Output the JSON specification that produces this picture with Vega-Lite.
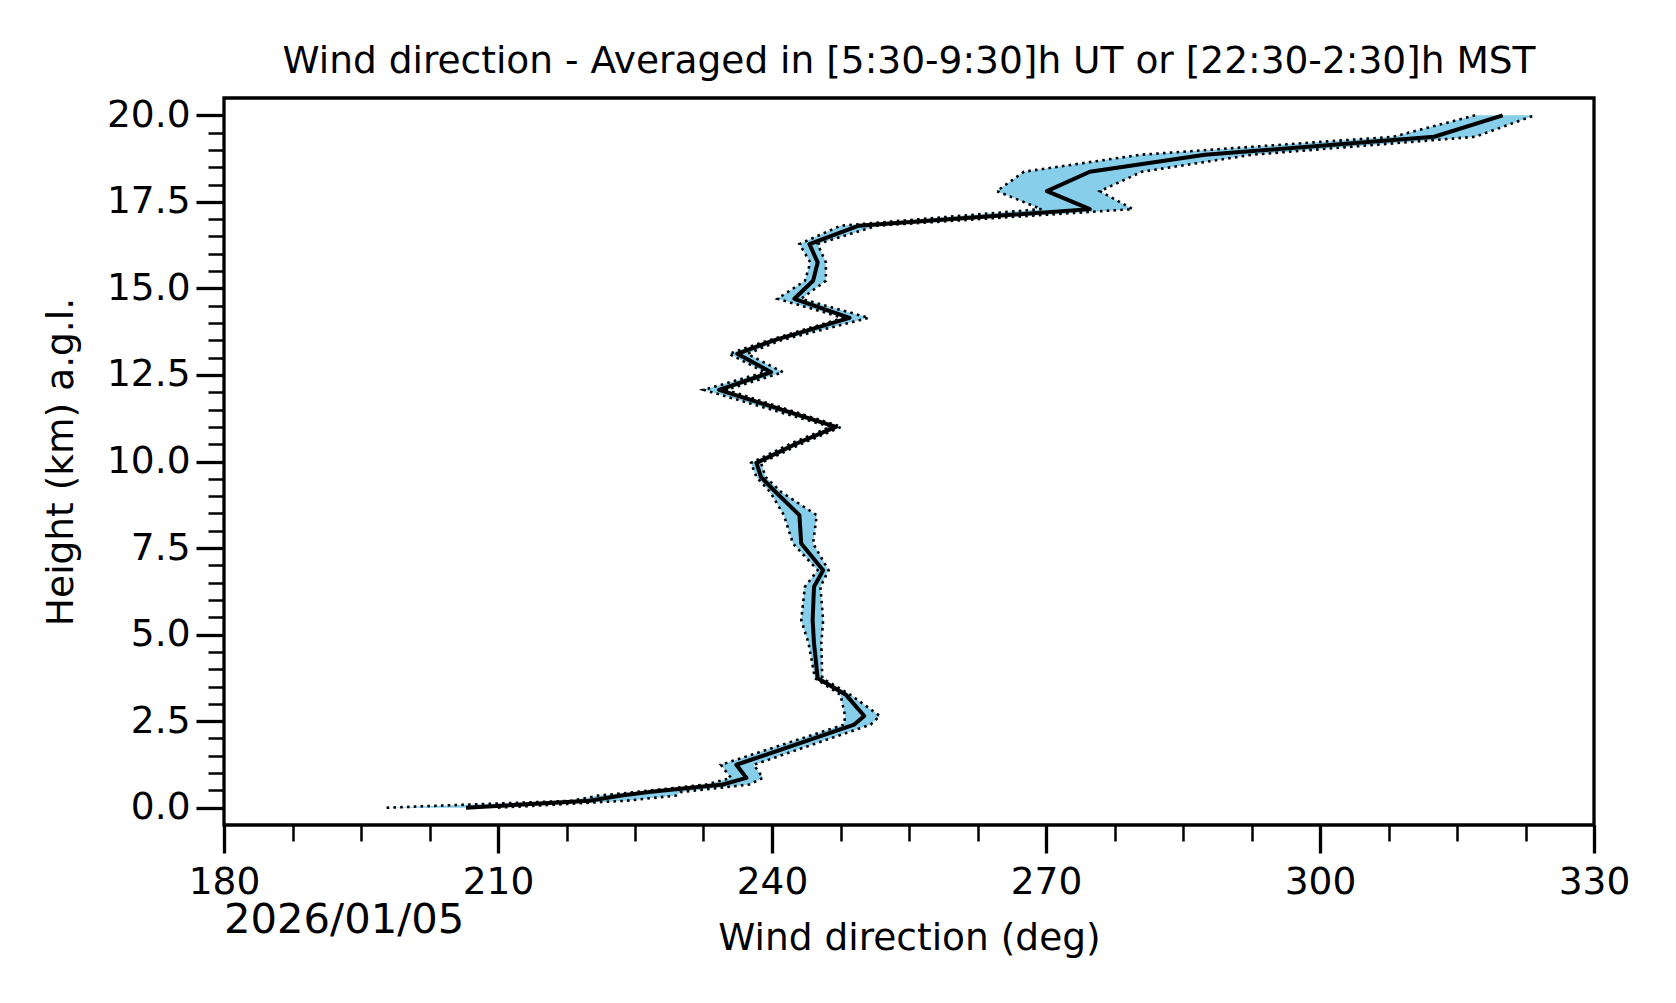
{
  "$schema": "https://vega.github.io/schema/vega-lite/v6.json",
  "autosize": {"type": "none"},
  "width": 1370,
  "height": 727,
  "padding": {"left": 224, "top": 98, "right": 82, "bottom": 178},
  "background": "white",
  "config": {
    "font": "DejaVu Sans",
    "view": {"stroke": "black", "strokeWidth": 3.3}
  },
  "title": {
    "text": "Wind direction - Averaged in [5:30-9:30]h UT or [22:30-2:30]h MST",
    "font": "DejaVu Sans",
    "fontSize": 37.5,
    "fontWeight": "normal",
    "color": "black",
    "anchor": "middle",
    "baseline": "alphabetic",
    "offset": 25,
    "dy": 39
  },
  "data": {
    "values": [
      {"h": 0.00, "m": 206.5, "lo": 197.8, "hi": 210.0},
      {"h": 0.20, "m": 220.0, "lo": 218.0, "hi": 224.0},
      {"h": 0.35, "m": 223.5, "lo": 221.0, "hi": 229.5},
      {"h": 0.45, "m": 226.5, "lo": 225.0, "hi": 230.0},
      {"h": 0.67, "m": 234.6, "lo": 232.8, "hi": 237.5},
      {"h": 0.86, "m": 237.2, "lo": 235.5, "hi": 239.0},
      {"h": 1.24, "m": 236.1, "lo": 234.4, "hi": 238.0},
      {"h": 2.40, "m": 249.0, "lo": 247.9, "hi": 250.8},
      {"h": 2.65, "m": 250.1, "lo": 248.0, "hi": 251.8},
      {"h": 3.26, "m": 248.1, "lo": 247.5, "hi": 248.6},
      {"h": 3.74, "m": 245.0, "lo": 244.7, "hi": 245.5},
      {"h": 4.75, "m": 244.6, "lo": 244.0, "hi": 245.4},
      {"h": 5.42, "m": 244.45, "lo": 243.2, "hi": 245.6},
      {"h": 6.38, "m": 244.6, "lo": 243.6, "hi": 245.3},
      {"h": 6.86, "m": 245.6, "lo": 245.0, "hi": 246.2},
      {"h": 7.63, "m": 243.2, "lo": 242.3, "hi": 244.5},
      {"h": 8.45, "m": 243.0, "lo": 241.3, "hi": 244.9},
      {"h": 9.12, "m": 240.4, "lo": 239.8, "hi": 241.0},
      {"h": 9.55, "m": 238.8, "lo": 238.3, "hi": 239.3},
      {"h": 9.96, "m": 238.3, "lo": 237.7, "hi": 238.8},
      {"h": 10.52, "m": 242.7, "lo": 242.1, "hi": 243.3},
      {"h": 11.00, "m": 247.0, "lo": 246.4, "hi": 247.6},
      {"h": 12.07, "m": 234.2, "lo": 232.5, "hi": 235.0},
      {"h": 12.58, "m": 239.9, "lo": 239.2, "hi": 241.2},
      {"h": 13.11, "m": 236.2, "lo": 235.3, "hi": 237.3},
      {"h": 13.49, "m": 240.1, "lo": 239.5, "hi": 240.8},
      {"h": 14.15, "m": 248.5, "lo": 247.8, "hi": 250.6},
      {"h": 14.70, "m": 242.45, "lo": 240.6, "hi": 243.2},
      {"h": 15.22, "m": 244.5, "lo": 243.6, "hi": 245.9},
      {"h": 15.75, "m": 245.0, "lo": 244.2, "hi": 245.9},
      {"h": 16.28, "m": 244.1, "lo": 243.0, "hi": 245.0},
      {"h": 16.81, "m": 249.5, "lo": 247.5, "hi": 251.5},
      {"h": 17.29, "m": 274.8, "lo": 269.5, "hi": 279.5},
      {"h": 17.81, "m": 270.1, "lo": 264.6, "hi": 275.9},
      {"h": 18.37, "m": 274.8, "lo": 267.6, "hi": 280.5},
      {"h": 18.86, "m": 287.4, "lo": 280.3, "hi": 292.5},
      {"h": 19.38, "m": 312.5, "lo": 308.0, "hi": 317.0},
      {"h": 20.00, "m": 320.0, "lo": 317.0, "hi": 323.5}
    ]
  },
  "encoding": {
    "y": {
      "field": "h",
      "type": "quantitative",
      "scale": {"domain": [-0.5, 20.5], "nice": false, "zero": false},
      "axis": {
        "title": "Height (km) a.g.l.",
        "values": [0,0.5,1,1.5,2,2.5,3,3.5,4,4.5,5,5.5,6,6.5,7,7.5,8,8.5,9,9.5,10,10.5,11,11.5,12,12.5,13,13.5,14,14.5,15,15.5,16,16.5,17,17.5,18,18.5,19,19.5,20],
        "labelExpr": "datum.value % 2.5 === 0 ? format(datum.value, '.1f') : ''",
        "tickSize": {"condition": {"test": "datum.value % 2.5 === 0", "value": 28}, "value": 16},
        "tickWidth": {"condition": {"test": "datum.value % 2.5 === 0", "value": 3.3}, "value": 2.5},
        "tickColor": "black",
        "domain": false,
        "grid": false,
        "labelFontSize": 37.5,
        "labelColor": "black",
        "labelPadding": 6,
        "labelOverlap": false,
        "labelFlush": false,
        "titleFontSize": 37.5,
        "titleFontWeight": "normal",
        "titleColor": "black",
        "titlePadding": 26
      }
    }
  },
  "layer": [
    {
      "mark": {"type": "area", "orient": "horizontal", "color": "#87ceeb", "opacity": 1},
      "encoding": {
        "x": {
          "field": "lo",
          "type": "quantitative",
          "scale": {"domain": [180, 330], "nice": false, "zero": false},
          "axis": {
            "title": "Wind direction (deg)",
            "values": [180,187.5,195,202.5,210,217.5,225,232.5,240,247.5,255,262.5,270,277.5,285,292.5,300,307.5,315,322.5,330],
            "labelExpr": "datum.value % 30 === 0 ? format(datum.value, 'd') : ''",
            "tickSize": {"condition": {"test": "datum.value % 30 === 0", "value": 28}, "value": 16},
            "tickWidth": {"condition": {"test": "datum.value % 30 === 0", "value": 3.3}, "value": 2.5},
            "tickColor": "black",
            "domain": false,
            "grid": false,
            "labelFontSize": 37.5,
            "labelColor": "black",
            "labelPadding": 10,
            "labelOverlap": false,
            "labelFlush": false,
            "titleFontSize": 37.5,
            "titleFontWeight": "normal",
            "titleColor": "black",
            "titlePadding": 19
          }
        },
        "x2": {"field": "hi"}
      }
    },
    {
      "mark": {"type": "line", "color": "black", "strokeWidth": 2.6, "strokeDash": [2.6, 4.2], "strokeCap": "butt"},
      "encoding": {
        "x": {"field": "lo", "type": "quantitative", "title": "Wind direction (deg)"},
        "order": {"field": "h", "type": "quantitative"}
      }
    },
    {
      "mark": {"type": "line", "color": "black", "strokeWidth": 2.6, "strokeDash": [2.6, 4.2], "strokeCap": "butt"},
      "encoding": {
        "x": {"field": "hi", "type": "quantitative", "title": "Wind direction (deg)"},
        "order": {"field": "h", "type": "quantitative"}
      }
    },
    {
      "mark": {"type": "line", "color": "black", "strokeWidth": 4, "strokeJoin": "round"},
      "encoding": {
        "x": {"field": "m", "type": "quantitative", "title": "Wind direction (deg)"},
        "order": {"field": "h", "type": "quantitative"}
      }
    },
    {
      "transform": [{"filter": "datum.h === 0"}],
      "mark": {"type": "text", "align": "left", "baseline": "alphabetic", "fontSize": 41.7, "font": "DejaVu Sans", "color": "black"},
      "encoding": {
        "x": {"datum": 180, "type": "quantitative"},
        "y": {"datum": -3.61, "type": "quantitative"},
        "text": {"value": "2026/01/05"}
      }
    }
  ]
}
